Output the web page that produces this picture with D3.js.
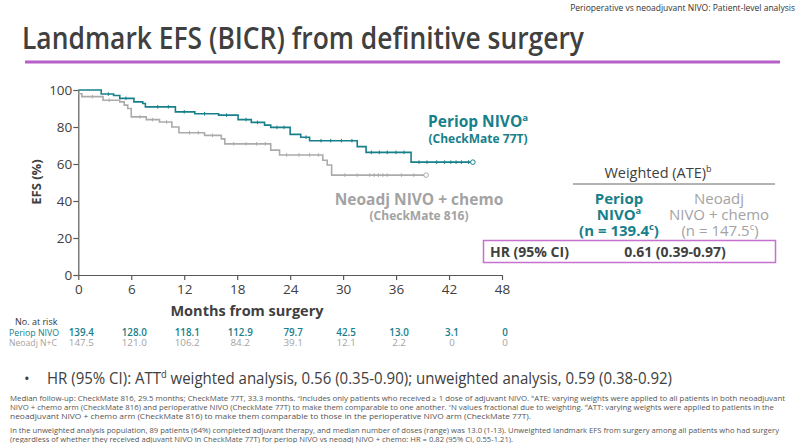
<!DOCTYPE html>
<html><head><meta charset="utf-8">
<script src="https://cdn.jsdelivr.net/npm/d3@7"></script>
<style>body{margin:0;background:#fff} svg{display:block} text{font-family:"Open Sans",sans-serif}</style>
</head><body><svg id="c" width="800" height="443"></svg>
<script>
// ---------- data ----------
const months = [0, 6, 12, 18, 24, 30, 36, 42, 48];
const yTicks = [0, 20, 40, 60, 80, 100];
const periopTime = [0, 2.6, 4.0, 4.7, 6.3, 7.3, 7.6, 11.0, 13.2, 15.9, 18.1, 19.6, 21.1, 21.8, 24.0, 25.2, 26.2, 31.6, 32.6, 37.7, 44.7];
const periopEFS  = [100, 97.8, 97, 95.5, 93.6, 92.7, 90.9, 88.2, 87.2, 86.4, 84, 82.5, 81, 79.8, 76, 74.5, 72.6, 69.4, 66.3, 61, 61];
const periopCensor = [3.4, 5.4, 9, 10.2, 12, 14.3, 16.8, 19, 20.3, 22.5, 23.3, 25.8, 27.5, 28.6, 29.8, 31, 33.2, 34.1, 35, 36, 36.9, 38.6, 39.5, 40.6, 41.5, 42.2, 42.8, 43.4, 44.2];
const neoadjTime = [0, 0.4, 2.8, 4.7, 5.2, 5.6, 6.0, 7.7, 9.2, 10.6, 11.4, 14.3, 16.2, 16.6, 21.8, 22.8, 27.7, 28.2, 28.7, 39.4];
const neoadjEFS  = [98, 96.4, 94.5, 93.6, 91.8, 90, 85.5, 84, 82.7, 80, 76.9, 75.5, 73.6, 70.9, 67.5, 64.9, 62, 59.5, 54, 54];
const neoadjCensor = [1.6, 3.5, 7.0, 8.4, 10.0, 12.6, 13.6, 15.2, 17.6, 19.0, 20.2, 21.2, 23.6, 25.0, 26.2, 27.2, 30.2, 31.6, 33.0, 33.5, 34.0, 34.5, 35.0, 36.6, 38.0];
const periopRisk = ["139.4", "128.0", "118.1", "112.9", "79.7", "42.5", "13.0", "3.1", "0"];
const neoadjRisk = ["147.5", "121.0", "106.2", "84.2", "39.1", "12.1", "2.2", "0", "0"];

// ---------- styles ----------
const TEAL = "#17808a", GRAY = "#ababab", GRAYTXT = "#a3a3a3", DARK = "#404040", PURPLE = "#b65fc6";

const svg = d3.select("#c");
const x = d3.scaleLinear().domain([0, 48]).range([78.3, 502]);
const y = d3.scaleLinear().domain([0, 100]).range([275, 90]);

function txt(g, xx, yy, parts, o) {
  o = o || {};
  const size = o.size || 12;
  const t = g.append("text").attr("x", xx).attr("y", yy)
    .attr("font-size", size).attr("fill", o.fill || DARK)
    .attr("font-weight", o.weight || 400)
    .attr("text-anchor", o.anchor || "start");
  if (o.len) t.attr("textLength", o.len).attr("lengthAdjust", "spacingAndGlyphs");
  let up = false;
  parts.forEach(p => {
    const isSup = Array.isArray(p);
    const ts = t.append("tspan").text(isSup ? p[0] : p);
    const shift = size * 0.38;
    if (isSup) { ts.attr("font-size", size * 0.62); if (!up) { ts.attr("dy", -shift); up = true; } }
    else if (up) { ts.attr("dy", shift); up = false; }
  });
  return t;
}

// ---------- header ----------
txt(svg, 795, 11, ["Perioperative vs neoadjuvant NIVO: Patient-level analysis"], {size: 8.5, anchor: "end", fill: "#333"});
txt(svg, 22, 49, ["Landmark EFS (BICR) from definitive surgery"], {size: 31, weight: 600, fill: DARK, len: 562});
svg.append("line").attr("x1", 25).attr("x2", 780).attr("y1", 62).attr("y2", 62)
  .attr("stroke", PURPLE).attr("stroke-width", 3);

// ---------- axes ----------
const yAxis = svg.append("g").attr("transform", `translate(${x(0)},0)`)
  .call(d3.axisLeft(y).tickValues(yTicks).tickSize(5).tickSizeOuter(0));
const xAxis = svg.append("g").attr("transform", `translate(0,${y(0)})`)
  .call(d3.axisBottom(x).tickValues(months).tickSize(5).tickSizeOuter(0));
[yAxis, xAxis].forEach(a => {
  a.select(".domain").attr("stroke", "#595959").attr("stroke-width", 1.2);
  a.selectAll(".tick line").attr("stroke", "#595959").attr("stroke-width", 1.2);
  a.selectAll(".tick text").attr("fill", DARK).attr("font-size", 13.5).style("font-family", '"Open Sans",sans-serif');
});
yAxis.selectAll(".tick text").attr("x", -6);
xAxis.selectAll(".tick text").attr("y", 9);

svg.append("text").attr("transform", "translate(41,182) rotate(-90)").attr("text-anchor", "middle")
  .attr("font-size", 13).attr("font-weight", 700).attr("fill", DARK).text("EFS (%)");
txt(svg, 247, 316, ["Months from surgery"], {size: 14.5, weight: 700, anchor: "middle"});

// ---------- curves ----------
const line = d3.line().x(d => x(d[0])).y(d => y(d[1])).curve(d3.curveStepAfter);
function stepAt(times, vals, t) { let v = vals[0]; for (let i = 0; i < times.length; i++) if (times[i] <= t) v = vals[i]; return v; }
function drawCurve(times, vals, cens, color) {
  const pts = times.map((t, i) => [t, vals[i]]);
  svg.append("path").datum(pts).attr("d", line).attr("fill", "none").attr("stroke", color).attr("stroke-width", 1.6);
  svg.append("g").selectAll("line").data(cens).join("line")
    .attr("x1", d => x(d)).attr("x2", d => x(d))
    .attr("y1", d => y(stepAt(times, vals, d)) - 1.8).attr("y2", d => y(stepAt(times, vals, d)) + 1.8)
    .attr("stroke", color).attr("stroke-width", 1);
  const last = pts[pts.length - 1];
  svg.append("circle").attr("cx", x(last[0])).attr("cy", y(last[1])).attr("r", 2.3)
    .attr("fill", "#fff").attr("stroke", color).attr("stroke-width", 1);
}
drawCurve(neoadjTime, neoadjEFS, neoadjCensor, GRAY);
drawCurve(periopTime, periopEFS, periopCensor, TEAL);

// ---------- curve labels ----------
txt(svg, 478, 127, ["Periop NIVO", ["a"]], {size: 15.5, weight: 700, fill: TEAL, anchor: "middle"});
txt(svg, 478, 143, ["(CheckMate 77T)"], {size: 12, weight: 700, fill: TEAL, anchor: "middle"});
txt(svg, 419, 205, ["Neoadj NIVO + chemo"], {size: 15.5, weight: 700, fill: GRAYTXT, anchor: "middle"});
txt(svg, 419, 220, ["(CheckMate 816)"], {size: 12, weight: 700, fill: GRAYTXT, anchor: "middle"});

// ---------- weighted table ----------
txt(svg, 658, 178, ["Weighted (ATE)", ["b"]], {size: 14.5, anchor: "middle"});
svg.append("line").attr("x1", 573).attr("x2", 775).attr("y1", 184).attr("y2", 184).attr("stroke", "#666").attr("stroke-width", 1);
txt(svg, 619, 204, ["Periop"], {size: 15, weight: 700, fill: TEAL, anchor: "middle"});
txt(svg, 619, 220, ["NIVO", ["a"]], {size: 15, weight: 700, fill: TEAL, anchor: "middle"});
txt(svg, 619, 236, ["(n = 139.4", ["c"], ")"], {size: 15, weight: 700, fill: TEAL, anchor: "middle"});
txt(svg, 719, 204, ["Neoadj"], {size: 15, fill: GRAYTXT, anchor: "middle"});
txt(svg, 719, 220, ["NIVO + chemo"], {size: 15, fill: GRAYTXT, anchor: "middle"});
txt(svg, 720, 236, ["(n = 147.5", ["c"], ")"], {size: 15, fill: GRAYTXT, anchor: "middle"});
svg.append("rect").attr("x", 483.5).attr("y", 240.5).attr("width", 292).attr("height", 22)
  .attr("fill", "none").attr("stroke", "#c471d0").attr("stroke-width", 1.5);
txt(svg, 490, 257, ["HR (95% CI)"], {size: 14, weight: 700});
txt(svg, 675, 257, ["0.61 (0.39-0.97)"], {size: 14, weight: 700, anchor: "middle"});

// ---------- number at risk ----------
txt(svg, 15, 325, ["No. at risk"], {size: 9, fill: "#333"});
txt(svg, 9, 336, ["Periop NIVO"], {size: 9.5, fill: TEAL, len: 50});
txt(svg, 9, 346, ["Neoadj N+C"], {size: 9.5, fill: GRAYTXT, len: 48});
svg.append("g").selectAll("text").data(months).join("text")
  .attr("x", d => x(d) + 3).attr("y", 336).attr("text-anchor", "middle")
  .attr("font-size", 9.8).attr("font-weight", 600).attr("fill", TEAL)
  .text((d, i) => periopRisk[i]);
svg.append("g").selectAll("text").data(months).join("text")
  .attr("x", d => x(d) + 3).attr("y", 346).attr("text-anchor", "middle")
  .attr("font-size", 9.8).attr("fill", GRAYTXT)
  .text((d, i) => neoadjRisk[i]);

// ---------- bullet + footnotes ----------
txt(svg, 24, 384, ["•"], {size: 15});
txt(svg, 47, 384, ["HR (95% CI): ATT", ["d"], " weighted analysis, 0.56 (0.35-0.90); unweighted analysis, 0.59 (0.38-0.92)"], {size: 16, len: 625});
const FN = {size: 7, fill: "#555"};
txt(svg, 10, 400.5, ["Median follow-up: CheckMate 816, 29.5 months; CheckMate 77T, 33.3 months. ", ["a"], "Includes only patients who received ≥ 1 dose of adjuvant NIVO. ", ["b"], "ATE: varying weights were applied to all patients in both neoadjuvant"], Object.assign({len: 775}, FN));
txt(svg, 10, 409.5, ["NIVO + chemo arm (CheckMate 816) and perioperative NIVO (CheckMate 77T) to make them comparable to one another. ", ["c"], "N values fractional due to weighting. ", ["d"], "ATT: varying weights were applied to patients in the"], Object.assign({len: 764}, FN));
txt(svg, 10, 418.5, ["neoadjuvant NIVO + chemo arm (CheckMate 816) to make them comparable to those in the perioperative NIVO arm (CheckMate 77T)."], Object.assign({len: 521}, FN));
txt(svg, 10, 433, ["In the unweighted analysis population, 89 patients (64%) completed adjuvant therapy, and median number of doses (range) was 13.0 (1-13). Unweighted landmark EFS from surgery among all patients who had surgery"], Object.assign({len: 769}, FN));
txt(svg, 10, 441.5, ["(regardless of whether they received adjuvant NIVO in CheckMate 77T) for periop NIVO vs neoadj NIVO + chemo: HR = 0.82 (95% CI, 0.55-1.21)."], Object.assign({len: 503}, FN));
</script></body></html>
